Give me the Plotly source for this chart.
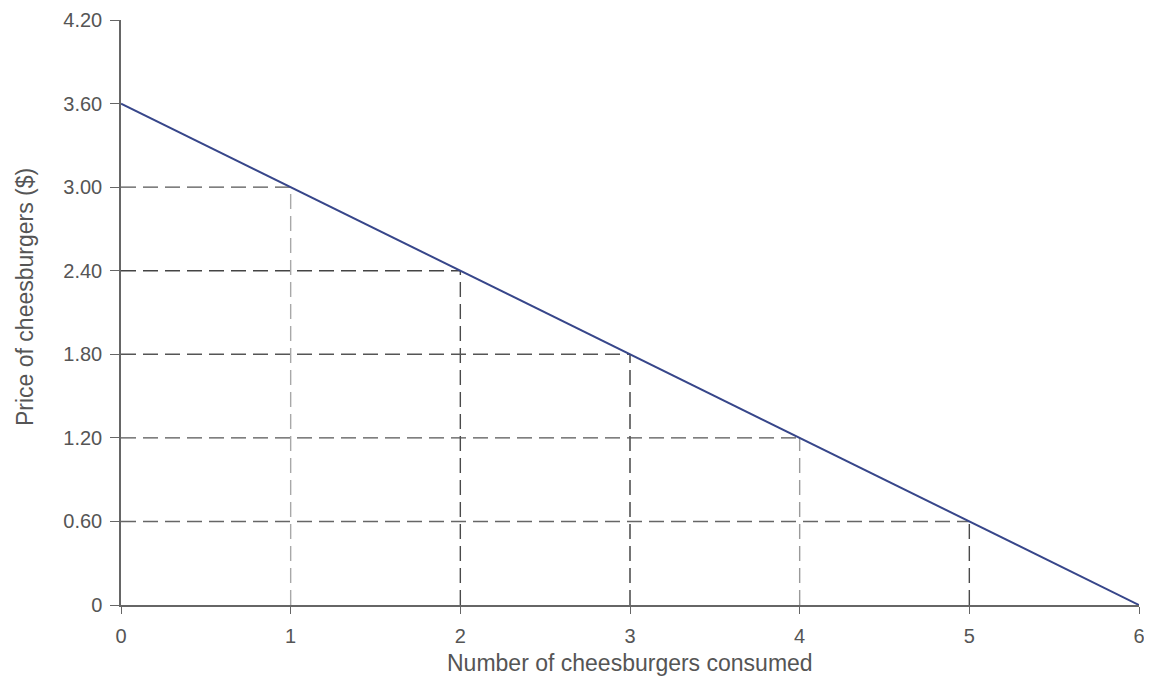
import plotly.graph_objects as go

quantity = [0, 1, 2, 3, 4, 5, 6]
price = [3.60, 3.00, 2.40, 1.80, 1.20, 0.60, 0.00]
guide_q = [1, 2, 3, 4, 5]
guide_p = [3.00, 2.40, 1.80, 1.20, 0.60]
y_ticks = [0, 0.60, 1.20, 1.80, 2.40, 3.00, 3.60, 4.20]
y_labels = ["0", "0.60", "1.20", "1.80", "2.40", "3.00", "3.60", "4.20"]
x_ticks = [0, 1, 2, 3, 4, 5, 6]
x_labels = ["0", "1", "2", "3", "4", "5", "6"]
x_title = "Number of cheesburgers consumed"
y_title = "Price of cheesburgers ($)"

v_colors = ["#a8a8a8", "#4a4a4a", "#3a3a3a", "#9a9a9a", "#4a4a4a"]
h_colors = ["#555555", "#444444", "#555555", "#555555", "#666666"]

fig = go.Figure()
for q, p, hc, vc in zip(guide_q, guide_p, h_colors, v_colors):
    fig.add_trace(go.Scatter(x=[0, q], y=[p, p], mode="lines",
                             line=dict(color=hc, width=1.4, dash="15px,7px"),
                             showlegend=False, hoverinfo="skip"))
    fig.add_trace(go.Scatter(x=[q, q], y=[0, p], mode="lines",
                             line=dict(color=vc, width=1.4, dash="15px,7px"),
                             showlegend=False, hoverinfo="skip"))

fig.add_trace(go.Scatter(x=quantity, y=price, mode="lines",
                         line=dict(color="#37468a", width=2),
                         showlegend=False))

font_col = "#555555"
fam = "Liberation Sans, Arial, sans-serif"
fig.update_layout(
    width=1144, height=673,
    margin=dict(l=113, r=13, t=12, b=76, autoexpand=False),
    paper_bgcolor="white", plot_bgcolor="white",
    font=dict(family=fam, size=20, color=font_col),
    xaxis=dict(range=[0, 6], tickvals=x_ticks, ticktext=x_labels,
               showgrid=False, zeroline=False, showline=True,
               linecolor="#666666", linewidth=1.5, automargin=False,
               ticks="outside", ticklen=7, tickcolor="#666666",
               ticklabelstandoff=5,
               tickfont=dict(size=20, color=font_col)),
    yaxis=dict(range=[0, 4.2], tickvals=y_ticks, ticktext=y_labels,
               showgrid=False, zeroline=False, showline=True,
               linecolor="#666666", linewidth=1.5, automargin=False,
               ticks="outside", ticklen=9, tickcolor="#666666",
               ticklabelstandoff=4,
               tickfont=dict(size=20, color=font_col)),
    annotations=[
        dict(text=x_title, xref="paper", yref="paper", x=0.5, y=0,
             xanchor="center", yanchor="middle", yshift=-58, showarrow=False,
             font=dict(family=fam, size=23, color=font_col)),
        dict(text=y_title, xref="paper", yref="paper", x=0, y=0.5265,
             xanchor="center", yanchor="middle", xshift=-96, showarrow=False,
             textangle=-90, font=dict(family=fam, size=23, color=font_col)),
    ],
)

fig.write_html("out.html")
